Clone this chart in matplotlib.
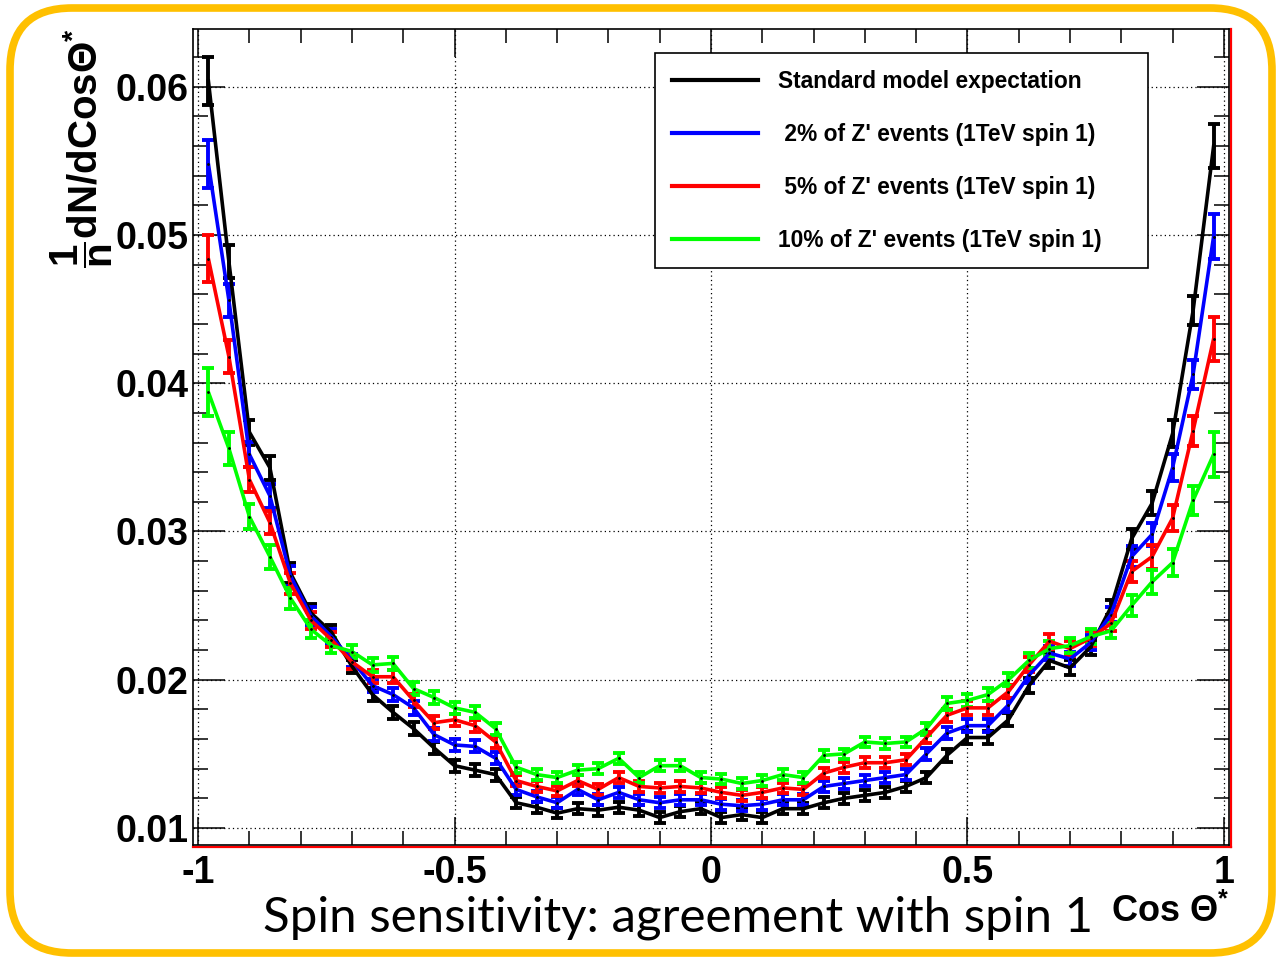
import matplotlib
matplotlib.use('Agg')
import matplotlib.pyplot as plt
import numpy as np
from matplotlib.patches import FancyBboxPatch
from matplotlib.transforms import IdentityTransform
from matplotlib.lines import Line2D
from matplotlib.ticker import MultipleLocator, FormatStrFormatter

plt.rcParams['font.family'] = ['Liberation Sans', 'DejaVu Sans']
plt.rcParams['font.weight'] = 'bold'
plt.rcParams['mathtext.fontset'] = 'custom'
plt.rcParams['mathtext.rm'] = 'Liberation Sans:bold'
plt.rcParams['mathtext.it'] = 'Liberation Sans:bold'
plt.rcParams['mathtext.bf'] = 'Liberation Sans:bold'
plt.rcParams['mathtext.sf'] = 'Liberation Sans:bold'

# ---- data: 50 bins of cos(theta*) in [-1, 1] ----
bin_edges = np.linspace(-1.0, 1.0, 51)
cos_theta = 0.5 * (bin_edges[:-1] + bin_edges[1:])

sm_expectation = [0.0604, 0.0482, 0.0367, 0.0343, 0.0272, 0.0245, 0.0232, 0.0209, 0.0190, 0.0178,
                  0.0167, 0.0154, 0.0142, 0.0139, 0.0136, 0.0117, 0.0114, 0.0110, 0.0113, 0.0112,
                  0.0114, 0.0112, 0.0107, 0.0111, 0.0113, 0.0107, 0.0109, 0.0107, 0.0113, 0.0113,
                  0.0117, 0.0120, 0.0122, 0.0124, 0.0128, 0.0134, 0.0149, 0.0161, 0.0161, 0.0173,
                  0.0196, 0.0213, 0.0208, 0.0222, 0.0249, 0.0295, 0.0319, 0.0366, 0.0449, 0.0560]
zp_2pct = [0.0548, 0.0456, 0.0352, 0.0324, 0.0270, 0.0243, 0.0229, 0.0213, 0.0196, 0.0190,
           0.0181, 0.0163, 0.0156, 0.0155, 0.0147, 0.0126, 0.0121, 0.0117, 0.0126, 0.0119,
           0.0124, 0.0119, 0.0117, 0.0119, 0.0119, 0.0116, 0.0115, 0.0116, 0.0119, 0.0119,
           0.0128, 0.0130, 0.0132, 0.0134, 0.0136, 0.0150, 0.0164, 0.0169, 0.0169, 0.0183,
           0.0203, 0.0218, 0.0214, 0.0225, 0.0244, 0.0283, 0.0298, 0.0343, 0.0406, 0.0499]
zp_5pct = [0.0484, 0.0418, 0.0335, 0.0306, 0.0265, 0.0240, 0.0227, 0.0212, 0.0202, 0.0202,
           0.0186, 0.0171, 0.0173, 0.0169, 0.0158, 0.0132, 0.0128, 0.0125, 0.0132, 0.0126,
           0.0134, 0.0128, 0.0127, 0.0128, 0.0127, 0.0124, 0.0122, 0.0124, 0.0127, 0.0126,
           0.0137, 0.0141, 0.0144, 0.0144, 0.0146, 0.0161, 0.0176, 0.0181, 0.0181, 0.0192,
           0.0210, 0.0226, 0.0221, 0.0228, 0.0238, 0.0273, 0.0283, 0.0309, 0.0368, 0.0430]
zp_10pct = [0.0394, 0.0356, 0.0310, 0.0283, 0.0255, 0.0234, 0.0223, 0.0219, 0.0210, 0.0211,
            0.0194, 0.0188, 0.0181, 0.0178, 0.0167, 0.0141, 0.0136, 0.0134, 0.0139, 0.0140,
            0.0147, 0.0134, 0.0142, 0.0142, 0.0134, 0.0133, 0.0130, 0.0132, 0.0136, 0.0134,
            0.0149, 0.0150, 0.0158, 0.0157, 0.0158, 0.0167, 0.0184, 0.0186, 0.0190, 0.0200,
            0.0213, 0.0221, 0.0223, 0.0229, 0.0233, 0.0250, 0.0266, 0.0279, 0.0321, 0.0352]
bin_errors = [0.0016, 0.0011, 0.00085, 0.0008, 0.0007, 0.0006, 0.0005, 0.00045, 0.00045, 0.00045,
              0.00045, 0.00042, 0.0004, 0.0004, 0.0004, 0.00038, 0.00036, 0.00036, 0.00036, 0.00036,
              0.00036, 0.00036, 0.00036, 0.00036, 0.00036, 0.00036, 0.00036, 0.00036, 0.00036, 0.00036,
              0.00036, 0.00036, 0.00036, 0.00036, 0.00036, 0.0004, 0.00042, 0.00045, 0.00045, 0.00045,
              0.0005, 0.0005, 0.0005, 0.0005, 0.0005, 0.0007, 0.0008, 0.0009, 0.0010, 0.0015]

series_labels = ["Standard model expectation",
                 " 2% of Z' events (1TeV spin 1)",
                 " 5% of Z' events (1TeV spin 1)",
                 "10% of Z' events (1TeV spin 1)"]
series_values = [sm_expectation, zp_2pct, zp_5pct, zp_10pct]
series_colors = ['#000000', '#0000ff', '#ff0000', '#00ff00']

x_ticks = [-1, -0.5, 0, 0.5, 1]
y_ticks = [0.01, 0.02, 0.03, 0.04, 0.05, 0.06]

W, H = 1277, 960
fig = plt.figure(figsize=(W / 100, H / 100), dpi=100)
fig.patch.set_facecolor('white')

# axes frame in pixels: left 193, right 1229, top 29, bottom 845
ax = fig.add_axes([193 / W, 1 - 845 / H, (1229 - 193) / W, (845 - 29) / H])
ax.set_xlim(-1.01, 1.01)
ax.set_ylim(0.00885, 0.0639)

for vals, col in zip(series_values, series_colors):
    ax.errorbar(cos_theta, vals, yerr=bin_errors, color=col, lw=2.6,
                elinewidth=2.8, capsize=4.0, capthick=2.8,
                marker='.', ms=2.0, mfc='black', mec='black', zorder=3)

ax.set_xticks(x_ticks)
ax.set_yticks(y_ticks)
ax.xaxis.set_minor_locator(MultipleLocator(0.1))
ax.yaxis.set_minor_locator(MultipleLocator(0.002))
ax.xaxis.set_major_formatter(FormatStrFormatter('%g'))
ax.yaxis.set_major_formatter(FormatStrFormatter('%.2f'))
ax.grid(True, which='major', color='black', ls=(0, (1, 2.5)), lw=0.9, zorder=1)

ax.tick_params(axis='both', which='both', direction='in', top=True, right=True,
               width=1.1, color='black')
ax.tick_params(axis='x', which='major', length=20, pad=7, labelsize=27)
ax.tick_params(axis='x', which='minor', length=10)
ax.tick_params(axis='y', which='major', length=23, pad=3, labelsize=27)
ax.tick_params(axis='y', which='minor', length=11)
for s in ax.spines.values():
    s.set_linewidth(1.2)

# red frame lines along bottom and right edges
ax.add_line(Line2D([0, 1.002], [-0.003, -0.003], transform=ax.transAxes, color='red',
                   lw=1.6, clip_on=False))
ax.add_line(Line2D([1.002, 1.002], [-0.003, 1.0], transform=ax.transAxes, color='red',
                   lw=1.6, clip_on=False))

# legend
handles = [Line2D([], [], color=c, lw=3) for c in series_colors]
leg = fig.legend(handles, series_labels, loc='upper left',
                 bbox_to_anchor=(655 / W, 1 - 267 / H, (1148 - 655) / W, (267 - 53) / H),
                 mode='expand', borderaxespad=0, fontsize=16.4, frameon=True, fancybox=False,
                 edgecolor='black', framealpha=1, handlelength=3.77, handletextpad=0.88,
                 labelspacing=1.32, borderpad=0.73)
leg.get_frame().set_linewidth(1.2)
for t in leg.get_texts():
    t.set_fontweight('bold')

# axis titles
fig.text(82 / W, 1 - 28 / H, r'$\dfrac{1}{n}$dN/dCos$\Theta^{*}$', rotation=90,
         ha='center', va='top', fontsize=29, fontweight='bold')
fig.text(1229 / W, 1 - 922 / H, r'Cos $\Theta^{*}$', ha='right', va='baseline',
         fontsize=26, fontweight='bold')

# slide caption
fig.text(263 / W, 1 - 932 / H, 'Spin sensitivity: agreement with spin 1',
         ha='left', va='baseline', fontsize=35.5, fontweight='normal', family=['Lato', 'DejaVu Sans'])

# orange rounded slide border
border = FancyBboxPatch((10, H - 953), 1262, 945,
                        boxstyle='round,pad=0,rounding_size=62',
                        transform=IdentityTransform(), fill=False,
                        ec='#FFC000', lw=5.5)
fig.patches.append(border)

fig.savefig('out.png', dpi=100)
